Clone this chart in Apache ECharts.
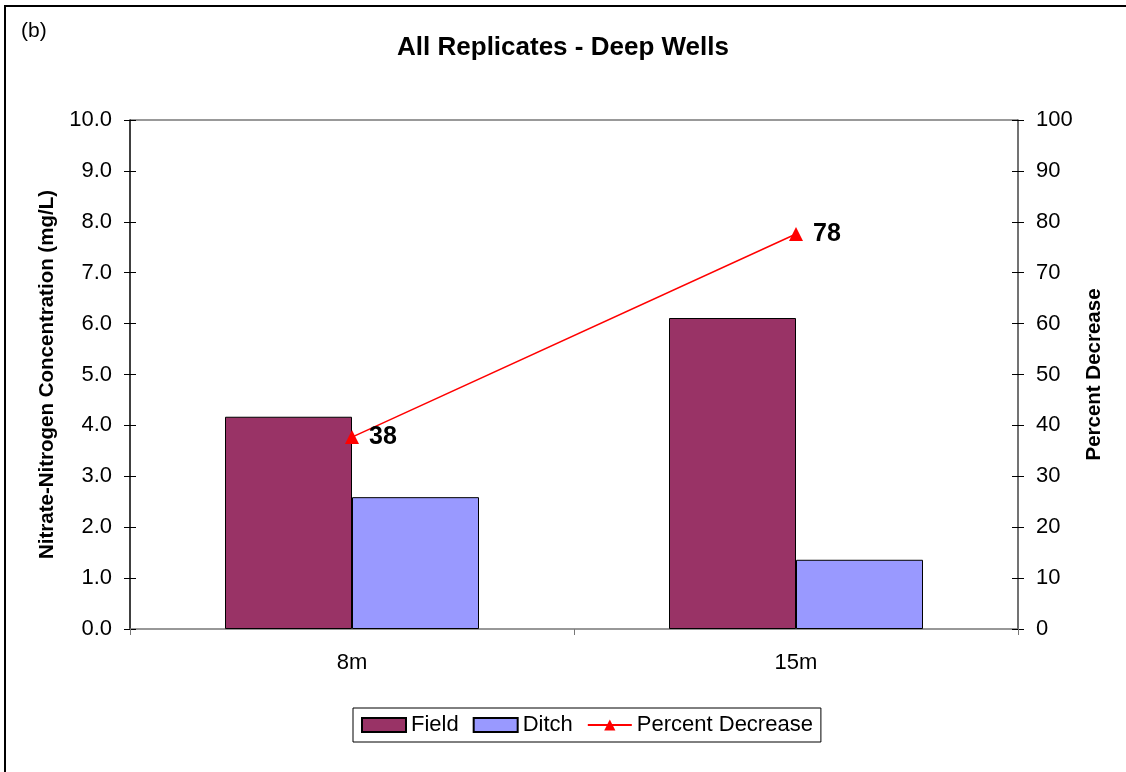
<!DOCTYPE html>
<html>
<head>
<meta charset="utf-8">
<script src="https://cdn.jsdelivr.net/npm/echarts@6/dist/echarts.min.js"></script>
<style>html,body{margin:0;padding:0;background:#fff;}#c{width:1126px;height:772px;}</style>
</head>
<body>
<div id="c"></div>
<script>
const categories = ['8m', '15m'];
const fieldValues = [4.17, 6.11];
const ditchValues = [2.59, 1.36];
const percentDecrease = [37.7, 77.6];
const leftTicks = ['0.0','1.0','2.0','3.0','4.0','5.0','6.0','7.0','8.0','9.0','10.0'];

const chart = echarts.init(document.getElementById('c'));
const font = 'Arial, "Liberation Sans", sans-serif';
chart.setOption({
  animation: false,
  backgroundColor: '#fff',
  textStyle: { fontFamily: font },
  title: [{
    text: 'All Replicates - Deep Wells',
    left: 'center', top: 30,
    textStyle: { fontSize: 26, fontWeight: 'bold', color: '#000', fontFamily: font }
  }, {
    text: '(b)', left: 16, top: 16,
    textStyle: { fontSize: 21, fontWeight: 'normal', color: '#000', fontFamily: font }
  }],
  graphic: [{
    type: 'rect', shape: { x: 5, y: 6, width: 1130, height: 780 },
    style: { fill: 'none', stroke: '#000', lineWidth: 2 }, silent: true, z: -1
  }, {
    type: 'line', shape: { x1: 130, y1: 120, x2: 1018, y2: 120 },
    style: { stroke: '#999', lineWidth: 2 }, silent: true
  }],
  legend: {
    bottom: 30, left: 353,
    itemGap: 14, itemWidth: 44, itemHeight: 14,
    padding: [6, 8, 6, 8],
    borderColor: '#000', borderWidth: 1,
    textStyle: { fontSize: 22, color: '#000', fontFamily: font },
    data: [
      { name: 'Field', icon: 'rect' },
      { name: 'Ditch', icon: 'rect' },
      { name: 'Percent Decrease' }
    ]
  },
  grid: { left: 130, right: 108, top: 120, bottom: 143, containLabel: false },
  xAxis: {
    type: 'category', data: categories,
    axisLine: { lineStyle: { color: '#777', width: 1.5 } },
    axisTick: { show: true, length: 6, inside: false, lineStyle: { color: '#777' } },
    axisLabel: { fontSize: 22, color: '#000', margin: 23 }
  },
  yAxis: [{
    type: 'value', min: 0, max: 10, interval: 1,
    name: 'Nitrate-Nitrogen Concentration (mg/L)',
    nameLocation: 'middle', nameGap: 72, nameRotate: 90,
    nameTextStyle: { fontSize: 20.5, fontWeight: 'bold', color: '#000' },
    axisLine: { show: true, lineStyle: { color: '#000', width: 1.5 } },
    axisTick: { show: true, length: 6, lineStyle: { color: '#000' } },
    axisLabel: { fontSize: 22, color: '#000', margin: 18, formatter: (v) => leftTicks[Math.round(v)] },
    splitLine: { show: false }
  }, {
    type: 'value', min: 0, max: 100, interval: 10,
    name: 'Percent Decrease',
    nameLocation: 'middle', nameGap: 66, nameRotate: 90,
    nameTextStyle: { fontSize: 20.5, fontWeight: 'bold', color: '#000' },
    axisLine: { show: true, lineStyle: { color: '#444', width: 1.5 } },
    axisTick: { show: true, length: 6, lineStyle: { color: '#000' } },
    axisLabel: { fontSize: 22, color: '#000', margin: 18 },
    splitLine: { show: false }
  }, {
    type: 'value', min: 0, max: 10, interval: 1, position: 'left',
    axisLine: { show: false }, axisLabel: { show: false }, splitLine: { show: false },
    axisTick: { show: true, inside: true, length: 6, lineStyle: { color: '#000' } }
  }, {
    type: 'value', min: 0, max: 100, interval: 10, position: 'right',
    axisLine: { show: false }, axisLabel: { show: false }, splitLine: { show: false },
    axisTick: { show: true, inside: true, length: 6, lineStyle: { color: '#000' } }
  }],
  series: [{
    name: 'Field', type: 'bar', data: fieldValues, barWidth: 127, barGap: '0%',
    itemStyle: { color: '#993366', borderColor: '#000', borderWidth: 1 }
  }, {
    name: 'Ditch', type: 'bar', data: ditchValues, barWidth: 127, barGap: '0%',
    itemStyle: { color: '#9999FF', borderColor: '#000', borderWidth: 1 }
  }, {
    name: 'Percent Decrease', type: 'line', yAxisIndex: 1, data: percentDecrease,
    symbol: 'triangle', symbolSize: 14,
    lineStyle: { color: '#FF0000', width: 1.5 },
    itemStyle: { color: '#FF0000' },
    label: {
      show: true, position: 'right', distance: 10,
      fontSize: 25, fontWeight: 'bold', color: '#000',
      formatter: (p) => Math.round(p.value)
    },
    z: 5
  }]
});
</script>
</body>
</html>
